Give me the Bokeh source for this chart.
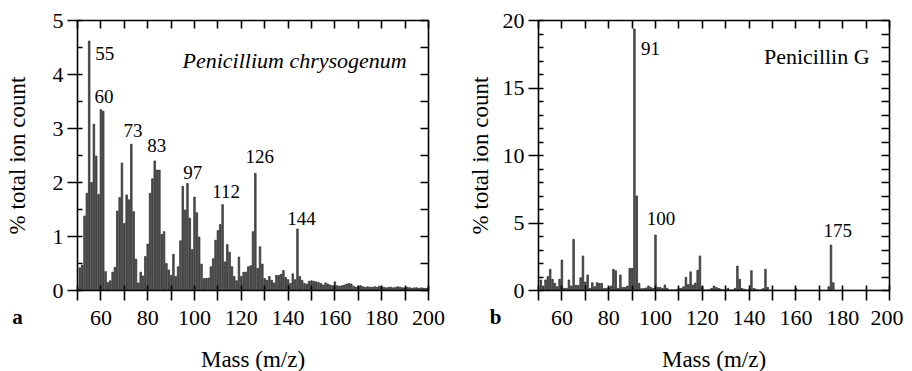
from bokeh.plotting import figure
from bokeh.layouts import row
from bokeh.models import FixedTicker, LinearAxis, Label, Range1d, ColumnDataSource
from bokeh.core.properties import value
from bokeh.embed import file_html
from bokeh.resources import INLINE

FONT = "Liberation Serif"

# ---- Panel a: Penicillium chrysogenum ----
mass_a = list(range(51, 201))
vals_a = [0.42, 0.47, 1.38, 1.80, 4.62, 2.00, 3.08, 2.49, 1.78, 3.35,
          3.32, 0.35, 0.15, 0.18, 0.34, 0.43, 1.47, 1.72, 2.36, 1.24,
          1.77, 1.68, 2.71, 1.46, 0.58, 0.14, 0.34, 0.27, 0.63, 0.86,
          1.80, 2.07, 2.40, 2.23, 2.23, 1.04, 1.09, 0.50, 0.38, 0.28,
          0.67, 0.26, 0.44, 0.92, 1.93, 1.49, 1.98, 1.34, 0.76, 1.73,
          1.44, 0.99, 0.49, 0.22, 0.22, 0.23, 0.44, 0.59, 0.93, 1.11,
          1.22, 1.59, 0.53, 0.85, 0.71, 0.44, 0.26, 0.18, 0.62, 0.26,
          0.34, 0.34, 0.44, 0.46, 1.09, 2.17, 0.41, 0.81, 0.49, 0.22,
          0.19, 0.26, 0.19, 0.14, 0.28, 0.28, 0.30, 0.37, 0.24, 0.20,
          0.13, 0.31, 0.20, 1.14, 0.26, 0.19, 0.13, 0.12, 0.17, 0.18,
          0.17, 0.16, 0.15, 0.13, 0.10, 0.14, 0.12, 0.10, 0.09, 0.16,
          0.09, 0.08, 0.09, 0.10, 0.12, 0.13, 0.12, 0.08, 0.06, 0.08,
          0.09, 0.07, 0.06, 0.07, 0.06, 0.06, 0.07, 0.06, 0.08, 0.07,
          0.06, 0.05, 0.06, 0.06, 0.05, 0.06, 0.07, 0.06, 0.05, 0.05,
          0.06, 0.05, 0.04, 0.05, 0.05, 0.04, 0.05, 0.04, 0.04, 0.05]
labels_a = ["55", "60", "73", "83", "97", "112", "126", "144"]
label_x_a = [57.6, 57.3, 69.7, 79.8, 95.2, 107.6, 121.8, 139.6]
label_y_a = [4.38, 3.60, 2.96, 2.68, 2.19, 1.84, 2.48, 1.33]

# ---- Panel b: Penicillin G ----
mass_b = list(range(51, 201))
vals_b = [0.78, 0.33, 0.78, 1.03, 1.57, 0.83, 0.53, 0.28, 0.83, 2.26,
          0.16, 0.16, 0.78, 0.33, 3.79, 0.38, 0.38, 0.95, 2.56, 0.63,
          1.15, 0.16, 0.58, 0.28, 0.58, 0.53, 0.53, 0.14, 0.16, 0.23,
          0.33, 1.57, 1.47, 0.16, 1.15, 0.23, 0.23, 0.33, 1.64, 1.64,
          19.37, 7.00, 0.53, 0.14, 0.14, 0.19, 0.33, 0.23, 0.16, 4.11,
          0.23, 0.23, 0.16, 0.41, 0.16, 0.05, 0.05, 0.05, 0.08, 0.16,
          0.16, 0.28, 0.98, 0.45, 1.38, 0.40, 0.55, 1.50, 2.56, 0.28,
          0.05, 0.05, 0.08, 0.16, 0.33, 0.23, 0.16, 0.10, 0.05, 0.05,
          0.16, 0.05, 0.05, 0.16, 1.81, 0.83, 0.16, 0.10, 0.05, 0.05,
          1.47, 0.16, 0.10, 0.05, 0.05, 0.14, 1.57, 0.23, 0.03, 0.03,
          0.03, 0.03, 0.03, 0.03, 0.03, 0.03, 0.03, 0.03, 0.03, 0.16,
          0.02, 0.02, 0.02, 0.02, 0.02, 0.02, 0.02, 0.02, 0.02, 0.02,
          0.02, 0.02, 0.02, 0.28, 3.37, 0.58, 0.02, 0.02, 0.02, 0.02,
          0.02, 0.02, 0.02, 0.02, 0.02, 0.02, 0.02, 0.02, 0.02, 0.02,
          0.02, 0.02, 0.02, 0.02, 0.02, 0.02, 0.02, 0.02, 0.02, 0.02]
labels_b = ["91", "100", "175"]
label_x_b = [93.75, 96.3, 171.8]
label_y_b = [17.9, 5.37, 4.48]

x_ticks = list(range(50, 201, 10))
x_overrides = {t: ("" if (t // 10) % 2 == 1 else str(t)) for t in x_ticks}


def make_panel(mass, vals, ymax, yticks, yminor, rticks, rminor,
               labels, lx, ly, title, title_x, title_y, title_italic,
               letter, letter_dx, border_left, border_right, ylab_standoff):
    p = figure(frame_width=351, frame_height=270, output_backend="svg",
               toolbar_location=None,
               x_range=Range1d(50, 200), y_range=Range1d(0, ymax),
               min_border_left=border_left, min_border_right=border_right,
               min_border_top=20, min_border_bottom=78,
               background_fill_color="white", border_fill_color="white")
    p.outline_line_color = None
    p.grid.visible = False

    src = ColumnDataSource(dict(x=mass, top=vals))
    p.vbar(x="x", top="top", bottom=0, width=0.7, source=src,
           fill_color="#555555", line_color="#1a1a1a", line_width=0.6)

    xa = p.xaxis[0]
    xa.ticker = FixedTicker(ticks=x_ticks, minor_ticks=[])
    xa.major_label_overrides = x_overrides
    xa.axis_label = "Mass (m/z)"
    ya = p.yaxis[0]
    ya.ticker = FixedTicker(ticks=yticks, minor_ticks=yminor)
    ya.axis_label = "% total ion count"

    for ax in (xa, ya):
        ax.axis_line_color = "black"
        ax.axis_line_width = 1.6
        ax.major_tick_line_color = "black"
        ax.major_tick_line_width = 1.6
        ax.minor_tick_line_color = "black"
        ax.minor_tick_line_width = 1.3
        ax.major_tick_in = 5
        ax.major_tick_out = 10
        ax.minor_tick_in = 5
        ax.minor_tick_out = 0
        ax.major_label_text_font = FONT
        ax.major_label_text_font_size = "22px"
        ax.major_label_text_color = "black"
        ax.axis_label_text_font = FONT
        ax.axis_label_text_font_size = "23px"
        ax.axis_label_text_font_style = "normal"
        ax.axis_label_text_color = "black"
    xa.major_label_standoff = 10
    xa.axis_label_standoff = 19
    ya.major_label_standoff = 4
    ya.axis_label_standoff = ylab_standoff

    top = LinearAxis(ticker=FixedTicker(ticks=x_ticks, minor_ticks=[]))
    right = LinearAxis(ticker=FixedTicker(ticks=rticks, minor_ticks=rminor))
    for ax in (top, right):
        ax.axis_line_color = "black"
        ax.axis_line_width = 1.6
        ax.major_tick_line_color = "black"
        ax.major_tick_line_width = 1.6
        ax.minor_tick_line_color = "black"
        ax.minor_tick_line_width = 1.3
        ax.major_tick_in = 8
        ax.major_tick_out = 0
        ax.minor_tick_in = 5
        ax.minor_tick_out = 0
        ax.major_label_text_font_size = "0px"
        ax.major_label_standoff = 0
        ax.major_label_text_color = None
    p.add_layout(top, "above")
    p.add_layout(right, "right")

    p.text(x=lx, y=ly, text=labels, text_font=value(FONT), text_font_size="19px",
           text_align="left", text_baseline="middle", text_color="black")

    p.add_layout(Label(x=title_x, y=title_y, text=title, text_font=FONT,
                       text_font_size="22px", text_align="right", text_baseline="middle",
                       text_font_style="italic" if title_italic else "normal",
                       text_color="black"))
    # panel letter: placed in a side panel so that it is not clipped to the frame
    p.add_layout(Label(x=letter_dx, y=-26, x_units="screen", y_units="screen",
                       text=letter, text_font=FONT,
                       text_font_size="21px", text_font_style="bold",
                       text_align="center", text_baseline="middle", text_color="black"),
                 "right")
    return p


p1 = make_panel(mass_a, vals_a, 5, [0, 1, 2, 3, 4, 5], [0.5, 1.5, 2.5, 3.5, 4.5],
                [0.5 * i for i in range(11)], [],
                labels_a, label_x_a, label_y_a,
                "Penicillium chrysogenum", 190.7, 4.26, True,
                "a", -411, 77, 20, 20)
p2 = make_panel(mass_b, vals_b, 20, [0, 5, 10, 15, 20], [i for i in range(21) if i % 5],
                list(range(0, 21)), [],
                labels_b, label_x_b, label_y_b,
                "Penicillin G", 191.5, 17.3, False,
                "b", -394, 90, 14, 7)

layout = row(p1, p2)
open("out.html", "w").write(file_html(layout, INLINE))
